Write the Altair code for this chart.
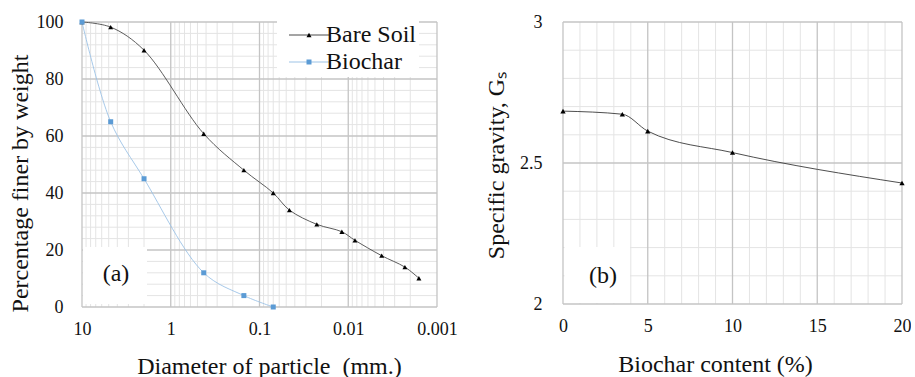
import altair as alt
import pandas as pd

FONT = "Liberation Serif"

# ---------------- Panel (a): particle size distribution ----------------
series_names = ["Bare Soil", "Biochar"]
bare_diam = [10, 4.75, 2.0, 0.425, 0.15, 0.07, 0.046, 0.0226, 0.0118, 0.0084, 0.0042, 0.0023, 0.0016]
bare_pct = [100, 98.2, 90.1, 60.8, 48.0, 40.0, 34.0, 29.0, 26.4, 23.4, 18.0, 14.0, 10.1]
bio_diam = [10, 4.75, 2.0, 0.425, 0.15, 0.07]
bio_pct = [100, 65, 45, 12, 4, 0]

# ---------------- Panel (b): specific gravity ----------------
biochar_content = [0, 3.5, 5, 10, 20]
specific_gravity = [2.684, 2.673, 2.613, 2.537, 2.429]

# ---------------- tick / grid values ----------------
a_x_major = [10, 1, 0.1, 0.01, 0.001]
a_x_minor = [9, 8, 7, 6, 5, 4, 3, 2,
             0.9, 0.8, 0.7, 0.6, 0.5, 0.4, 0.3, 0.2,
             0.09, 0.08, 0.07, 0.06, 0.05, 0.04, 0.03, 0.02,
             0.009, 0.008, 0.007, 0.006, 0.005, 0.004, 0.003, 0.002]
a_y_major = [0, 20, 40, 60, 80, 100]
a_y_minor = [4, 8, 12, 16, 24, 28, 32, 36, 44, 48, 52, 56, 64, 68, 72, 76, 84, 88, 92, 96]
b_x_major = [0, 5, 10, 15, 20]
b_x_minor = [1, 2, 3, 4, 6, 7, 8, 9, 11, 12, 13, 14, 16, 17, 18, 19]
b_y_major = [2, 2.5, 3]
b_y_minor = [2.1, 2.2, 2.3, 2.4, 2.6, 2.7, 2.8, 2.9]

MAJOR = "#c4c4c4"
MINOR = "#e4e4e4"

psd = pd.DataFrame({
    "diam": bare_diam + bio_diam,
    "pct": bare_pct + bio_pct,
    "s_line": [series_names[0]] * len(bare_diam) + [series_names[1]] * len(bio_diam),
})
psd["s_pt"] = psd["s_line"]

xs_a = alt.Scale(type="log", domain=[0.001, 10], reverse=True, nice=False)
ys_a = alt.Scale(domain=[0, 100], nice=False, zero=False)

axis_common = dict(grid=False, ticks=False, domain=False, labelFont=FONT,
                   labelFontSize=18, labelColor="#111111", titleFont=FONT, titleFontSize=24,
                   titleFontWeight="normal", titleColor="#111111", labelFlush=False,
                   titleBaseline="alphabetic")

x_axis_a = alt.Axis(values=a_x_major, format="~g", labelPadding=13,
                    title="Diameter of particle\u00a0 (mm.)", titleX=187, titleY=66, **axis_common)
y_axis_a = alt.Axis(values=a_y_major, labelPadding=19, title="Percentage finer by weight",
                    titleX=-55, titleY=161, **axis_common)


def vrules(vals, scale, axis, color, width):
    return alt.Chart(pd.DataFrame({"v": vals})).mark_rule(color=color, strokeWidth=width).encode(
        x=alt.X("v:Q", scale=scale, axis=axis))


def hrules(vals, scale, axis, color, width):
    return alt.Chart(pd.DataFrame({"v": vals})).mark_rule(color=color, strokeWidth=width).encode(
        y=alt.Y("v:Q", scale=scale, axis=axis))


nb = "\u00a0\u00a0\u00a0"
leg_line = alt.Legend(orient="none", legendX=195, legendY=-2, padding=3, fillColor="white",
                      symbolType="M-8,0H8", symbolSize=25, symbolStrokeWidth=1,
                      symbolOffset=17, labelOffset=5, labelFont=FONT, labelFontSize=24,
                      labelColor="#111111", rowPadding=3, title=None,
                      labelExpr="datum.label + '" + nb + "'")
leg_pt = alt.Legend(orient="none", legendX=195, legendY=-2, padding=3,
                    symbolSize=25, symbolOffset=17, labelOffset=5, labelFont=FONT,
                    labelFontSize=24, labelOpacity=0, rowPadding=3, title=None,
                    labelExpr="datum.label + '" + nb + "'")

lines_a = alt.Chart(psd).mark_line(strokeWidth=0.9, interpolate="catmull-rom").encode(
    x=alt.X("diam:Q", scale=xs_a, axis=x_axis_a),
    y=alt.Y("pct:Q", scale=ys_a, axis=y_axis_a),
    color=alt.Color("s_line:N", scale=alt.Scale(domain=series_names, range=["#4a4a4a", "#9dc3e6"]),
                    legend=leg_line),
    order=alt.Order("diam:Q", sort="descending"),
)
points_a = alt.Chart(psd).mark_point(filled=True, size=25, opacity=1).encode(
    x=alt.X("diam:Q", scale=xs_a, axis=x_axis_a),
    y=alt.Y("pct:Q", scale=ys_a, axis=y_axis_a),
    fill=alt.Fill("s_pt:N", scale=alt.Scale(range=["#000000", "#5b9bd5"]), legend=leg_pt),
    shape=alt.Shape("s_pt:N", scale=alt.Scale(range=["triangle-up", "square"]), legend=leg_pt),
)

box_a = alt.Chart(pd.DataFrame({"t": ["(a)"]})).mark_rect(color="white").encode(
    x=alt.value(1), x2=alt.value(65), y=alt.value(225), y2=alt.value(282))
text_a = alt.Chart(pd.DataFrame({"t": ["(a)"]})).mark_text(font=FONT, fontSize=24, color="#111111").encode(
    x=alt.value(34), y=alt.value(252), text="t:N")

panel_a = alt.layer(
    vrules(a_x_minor, xs_a, x_axis_a, MINOR, 1), hrules(a_y_minor, ys_a, y_axis_a, MINOR, 1),
    vrules(a_x_major, xs_a, x_axis_a, MAJOR, 1.3), hrules(a_y_major, ys_a, y_axis_a, MAJOR, 1.3),
    box_a, text_a, lines_a, points_a,
).properties(width=355, height=285)

# ---------------- Panel (b) ----------------
sg = pd.DataFrame({"bc": biochar_content, "gs": specific_gravity})
xs_b = alt.Scale(domain=[0, 20], nice=False, zero=False)
ys_b = alt.Scale(domain=[2, 3], nice=False, zero=False)

x_axis_b = alt.Axis(values=b_x_major, labelPadding=13, title="Biochar content (%)",
                    titleX=152, titleY=67, **axis_common)
y_axis_b = alt.Axis(values=b_y_major, format="~g", labelPadding=21,
                    title="Specific gravity, G\u209b", titleX=-60, titleY=143, **axis_common)

line_b = alt.Chart(sg).mark_line(strokeWidth=0.9, color="#3a3a3a", interpolate="monotone").encode(
    x=alt.X("bc:Q", scale=xs_b, axis=x_axis_b),
    y=alt.Y("gs:Q", scale=ys_b, axis=y_axis_b),
)
points_b = alt.Chart(sg).mark_point(filled=True, size=28, opacity=1, shape="triangle-up",
                                    color="#000000").encode(
    x=alt.X("bc:Q", scale=xs_b, axis=x_axis_b),
    y=alt.Y("gs:Q", scale=ys_b, axis=y_axis_b),
)
box_b = alt.Chart(pd.DataFrame({"t": ["(b)"]})).mark_rect(color="white").encode(
    x=alt.value(1.5), x2=alt.value(67), y=alt.value(225), y2=alt.value(281))
text_b = alt.Chart(pd.DataFrame({"t": ["(b)"]})).mark_text(font=FONT, fontSize=24, color="#111111").encode(
    x=alt.value(40), y=alt.value(254), text="t:N")

panel_b = alt.layer(
    vrules(b_x_minor, xs_b, x_axis_b, MINOR, 1), hrules(b_y_minor, ys_b, y_axis_b, MINOR, 1),
    vrules(b_x_major, xs_b, x_axis_b, MAJOR, 1.3), hrules(b_y_major, ys_b, y_axis_b, MAJOR, 1.3),
    box_b, text_b, line_b, points_b,
).properties(width=339, height=282)

chart = alt.hconcat(panel_a, panel_b, spacing=126, bounds="flush").properties(
    padding={"left": 8, "top": 13, "right": 0, "bottom": 0},
    background="white",
).configure_view(strokeWidth=0)

chart.save("out.html", embed_options={"renderer": "svg", "actions": False})
